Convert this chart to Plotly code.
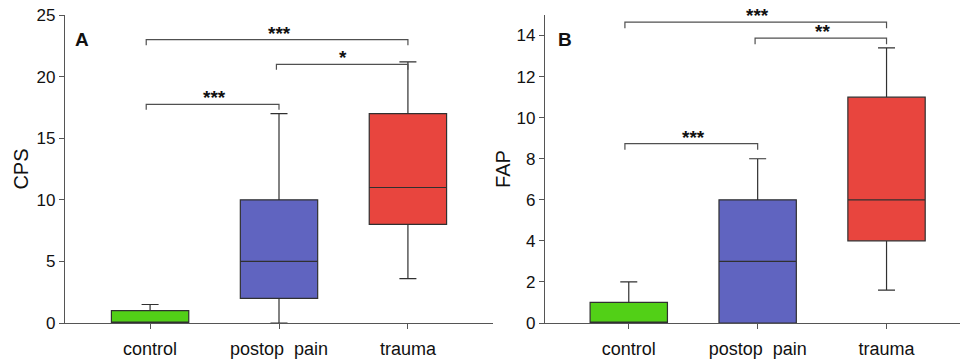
import plotly.graph_objects as go

# ---------------- data ----------------
categories = ["control", "postop  pain", "trauma"]
colors = ["#52d017", "#6064c0", "#e8453e"]

# Panel A (CPS)
cps_q1 = [0, 2, 8]
cps_median = [0, 5, 11]
cps_q3 = [1, 10, 17]
cps_low = [0, 0, 3.6]
cps_high = [1.5, 17, 21.2]

# Panel B (FAP)
fap_q1 = [0, 0, 4]
fap_median = [0, 3, 6]
fap_q3 = [1, 6, 11]
fap_low = [0, 0, 1.6]
fap_high = [2, 8, 13.4]

# significance brackets: (from index, to index, level, label)
cps_sig = [(0, 2, 23.0, "***"), (1, 2, 21.0, "*"), (0, 1, 17.75, "***")]
fap_sig = [(0, 2, 14.65, "***"), (1, 2, 13.87, "**"), (0, 1, 8.74, "***")]

FONT = "Liberation Sans, Arial, sans-serif"
AXC = "#555555"

fig = go.Figure()

def add_boxes(q1, med, q3, lo, hi, xa, ya):
    for i, c in enumerate(categories):
        fig.add_trace(go.Box(
            x=[i], q1=[q1[i]], median=[med[i]], q3=[q3[i]],
            lowerfence=[lo[i]], upperfence=[hi[i]],
            width=0.6, whiskerwidth=0.22,
            fillcolor=colors[i], line=dict(color="#303030", width=1.2),
            boxpoints=False, showlegend=False, hoverinfo="skip",
            xaxis=xa, yaxis=ya,
        ))

add_boxes(cps_q1, cps_median, cps_q3, cps_low, cps_high, "x", "y")
add_boxes(fap_q1, fap_median, fap_q3, fap_low, fap_high, "x2", "y2")

def add_brackets(sig, xr, yr, drop):
    for i, j, lvl, lab in sig:
        left = i - 0.03 if i == 0 else i - 0.02
        right = j
        path = f"M {left} {lvl - drop} L {left} {lvl} L {right} {lvl} L {right} {lvl - drop}"
        fig.add_shape(type="path", path=path, xref=xr, yref=yr,
                      line=dict(color="#505050", width=1.2))
        fig.add_annotation(x=(i + j) / 2, y=lvl, xref=xr, yref=yr, text=f"<b>{lab}</b>",
                           showarrow=False, yanchor="bottom", yshift=-6,
                           font=dict(family=FONT, size=19, color="#111111"))

add_brackets(cps_sig, "x", "y", 0.45)
add_brackets(fap_sig, "x2", "y2", 0.3)

axis_common = dict(showgrid=False, zeroline=False, showline=True, linecolor=AXC,
                   linewidth=1.3, ticks="outside", ticklen=5, tickcolor=AXC,
                   tickwidth=1.2, automargin=False)

fig.update_layout(
    width=960, height=363,
    margin=dict(l=0, r=0, t=15, b=39.5),
    paper_bgcolor="white", plot_bgcolor="white",
    font=dict(family=FONT, color="#111111"),
    xaxis=dict(domain=[65 / 960, 493 / 960], range=[-0.66, 2.66],
               tickmode="array", tickvals=[0, 1, 2], ticktext=categories,
               tickfont=dict(size=18), ticklabelstandoff=4, anchor="y",
               **axis_common),
    yaxis=dict(domain=[0, 1], range=[0, 25], tickvals=[0, 5, 10, 15, 20, 25],
               tickfont=dict(size=17), anchor="x",
               title=dict(text="CPS", font=dict(size=20), standoff=2),
               **axis_common),
    xaxis2=dict(domain=[545 / 960, 1.0], range=[-0.65, 2.57],
                tickmode="array", tickvals=[0, 1, 2], ticktext=categories,
                tickfont=dict(size=18), ticklabelstandoff=4, anchor="y2",
                **axis_common),
    yaxis2=dict(domain=[0, 1], range=[0, 15], tickvals=[0, 2, 4, 6, 8, 10, 12, 14],
                tickfont=dict(size=17), anchor="x2",
                title=dict(text="FAP", font=dict(size=20), standoff=0),
                **axis_common),
)

fig.add_annotation(x=81.7 / 960, y=1 - 29 / 363, xref="paper", yref="paper",
                   text="<b>A</b>", showarrow=False, xanchor="center", yanchor="middle",
                   font=dict(family=FONT, size=19, color="#111111"))
fig.add_annotation(x=565 / 960, y=1 - 29 / 363, xref="paper", yref="paper",
                   text="<b>B</b>", showarrow=False, xanchor="center", yanchor="middle",
                   font=dict(family=FONT, size=19, color="#111111"))

fig.write_html("out.html", config={"displayModeBar": False},
               post_script="document.body.style.margin='0';")
